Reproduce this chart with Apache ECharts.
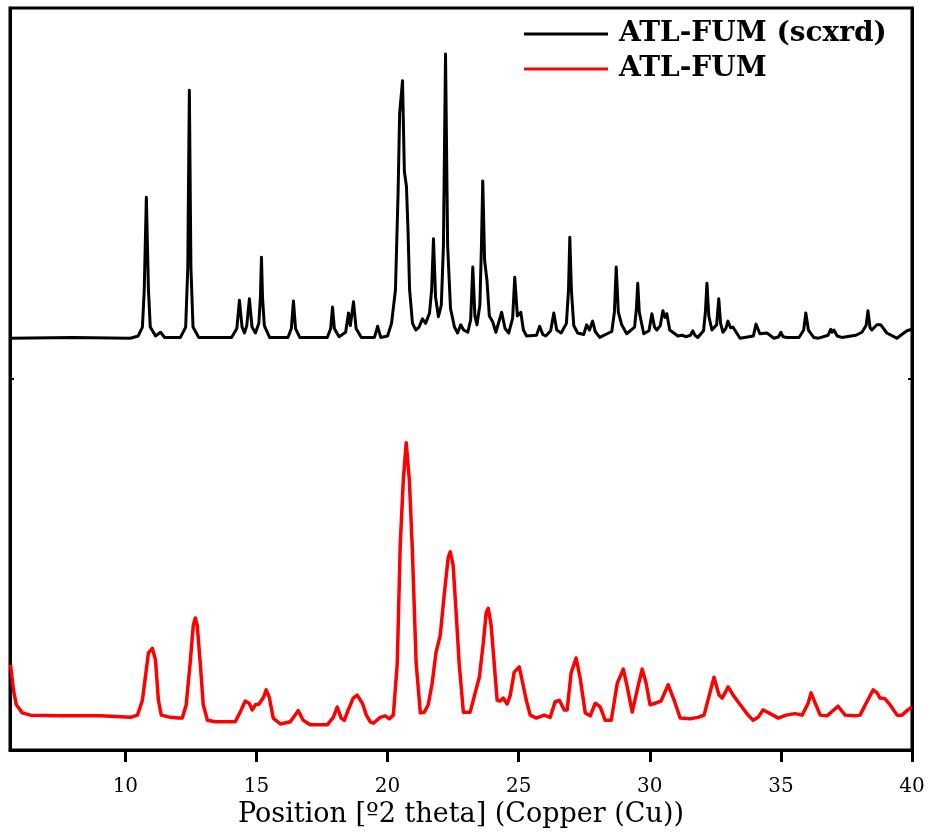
<!DOCTYPE html>
<html>
<head>
<meta charset="utf-8">
<script src="https://cdn.jsdelivr.net/npm/echarts@6/dist/echarts.min.js"></script>
<style>html,body{margin:0;padding:0;background:#fff}#chart{width:934px;height:834px}</style>
</head>
<body>
<div id="chart"></div>
<script>
// Series names
const seriesNames = ['ATL-FUM (scxrd)', 'ATL-FUM'];
// X axis tick labels (2θ)
const xTicks = [10, 15, 20, 25, 30, 35, 40];
// Simulated (single crystal) pattern, offset upward: [2theta, intensity a.u.]
const scxrdPattern = [
[5.6,55.5],[8.0,55.6],[10.19,55.5],[10.49,55.8],[10.65,57.0],[10.72,62.0],[10.80,74.5],[10.88,62.0],[10.95,57.0],[11.15,55.8],[11.34,56.3],[11.50,55.6],
[12.10,55.6],[12.30,57.0],[12.38,65.0],[12.44,88.9],[12.50,65.0],[12.58,57.0],[12.80,55.6],
[14.05,55.6],[14.25,56.8],[14.35,60.6],[14.45,57.0],[14.54,56.2],[14.63,57.2],[14.73,60.8],[14.83,57.0],[14.96,56.2],[15.09,57.5],[15.15,61.0],[15.19,66.4],[15.23,61.0],[15.30,57.2],[15.50,55.6],
[16.20,55.6],[16.33,56.8],[16.41,60.5],[16.49,56.8],[16.65,55.6],
[17.70,55.6],[17.83,56.8],[17.90,59.7],[17.97,56.8],[18.15,55.7],[18.40,56.3],[18.51,58.9],[18.58,57.2],[18.70,60.4],[18.80,56.8],[19.00,55.6],[19.50,55.6],[19.62,57.1],[19.74,55.6],
[20.00,55.8],[20.15,57.5],[20.30,62.0],[20.40,75.0],[20.46,85.8],[20.57,90.2],[20.64,78.0],[20.72,75.9],[20.78,70.0],[20.84,62.0],[20.95,57.5],[21.08,56.6],[21.20,57.0],[21.33,58.1],[21.45,57.5],[21.60,58.9],[21.68,62.0],[21.75,68.9],[21.83,61.0],[21.94,58.4],[22.05,60.0],[22.13,68.0],[22.21,93.8],[22.29,68.0],[22.40,59.5],[22.55,57.0],[22.67,56.2],[22.79,57.3],[22.90,56.6],[23.06,56.3],[23.17,58.0],[23.25,65.1],[23.33,58.5],[23.41,57.3],[23.52,60.0],[23.58,68.0],[23.63,76.7],[23.70,66.0],[23.79,63.3],[23.88,58.5],[24.01,57.7],[24.13,56.3],[24.35,59.0],[24.48,56.8],[24.62,56.2],[24.77,58.2],[24.85,63.7],[24.95,58.5],[25.08,59.0],[25.18,56.6],[25.30,55.8],[25.68,55.9],[25.80,57.1],[25.92,56.0],[26.03,55.8],[26.22,56.5],[26.34,58.9],[26.45,56.6],[26.62,56.2],[26.82,57.5],[26.90,62.0],[26.95,69.1],[27.01,62.0],[27.10,57.2],[27.25,56.2],[27.48,56.0],[27.59,57.3],[27.70,56.6],[27.82,57.8],[27.92,56.4],[28.09,55.6],[28.55,56.4],[28.65,59.0],[28.72,65.1],[28.80,59.0],[28.93,57.3],[29.12,56.1],[29.42,57.0],[29.49,59.5],[29.54,62.9],[29.60,59.0],[29.77,56.1],[29.97,56.5],[30.08,58.8],[30.18,57.0],[30.27,56.6],[30.40,57.2],[30.50,59.2],[30.58,58.3],[30.65,58.8],[30.76,56.6],[31.07,55.8],[31.22,55.9],[31.40,55.7],[31.55,55.9],[31.64,56.5],[31.72,55.9],[31.83,55.6],[32.05,56.5],[32.12,59.0],[32.18,62.9],[32.25,58.5],[32.37,56.6],[32.55,57.3],[32.63,60.8],[32.70,57.5],[32.79,56.3],[32.90,56.8],[32.98,57.8],[33.08,56.9],[33.17,57.0],[33.44,55.5],[33.95,55.8],[34.05,57.4],[34.20,56.1],[34.47,56.2],[34.73,55.5],[34.92,55.7],[35.00,56.3],[35.08,55.7],[35.23,55.6],[35.69,55.6],[35.87,56.6],[35.95,58.9],[36.05,56.6],[36.25,55.6],[36.44,55.5],[36.80,55.9],[36.90,56.7],[36.96,56.3],[37.02,56.6],[37.15,55.8],[37.32,55.6],[37.86,55.9],[38.09,56.3],[38.25,57.2],[38.32,59.2],[38.40,56.9],[38.47,56.6],[38.66,57.3],[38.81,57.3],[39.04,56.2],[39.42,55.5],[39.69,56.2],[39.81,56.5],[40.0,56.7]
];
// Experimental powder pattern: [2theta, intensity a.u.]
const pxrdPattern = [
[5.62,11.5],[5.73,8.1],[5.84,6.1],[6.07,5.0],[6.38,4.7],[7.52,4.6],[9.05,4.6],[10.19,4.4],[10.46,4.7],[10.65,6.7],[10.88,13.1],[11.03,13.7],[11.15,12.1],[11.26,6.7],[11.37,4.7],[11.72,4.4],[12.02,4.3],[12.17,4.3],[12.32,6.1],[12.48,12.1],[12.59,16.8],[12.67,17.8],[12.74,16.8],[12.86,11.5],[12.97,6.1],[13.13,4.0],[13.43,3.8],[14.19,3.8],[14.38,5.1],[14.57,6.6],[14.72,6.3],[14.84,5.4],[14.96,6.1],[15.10,6.2],[15.27,7.1],[15.37,8.1],[15.49,7.1],[15.64,4.3],[15.91,3.5],[16.29,3.8],[16.59,5.3],[16.78,4.0],[17.05,3.4],[17.70,3.4],[17.93,4.4],[18.08,5.8],[18.23,4.3],[18.35,4.0],[18.50,5.4],[18.69,7.0],[18.84,7.4],[19.04,6.3],[19.19,4.7],[19.34,3.8],[19.46,3.6],[19.72,4.4],[19.91,4.6],[20.07,4.2],[20.22,4.7],[20.37,11.7],[20.48,27.4],[20.60,36.4],[20.71,41.4],[20.83,36.4],[20.94,27.4],[21.09,11.7],[21.25,5.0],[21.40,5.1],[21.55,6.1],[21.70,9.0],[21.85,13.2],[22.01,15.5],[22.16,20.9],[22.31,25.9],[22.39,26.7],[22.50,24.9],[22.62,18.2],[22.73,11.7],[22.89,5.1],[23.15,5.1],[23.34,7.7],[23.50,9.8],[23.65,14.4],[23.76,18.5],[23.84,19.1],[23.95,16.8],[24.07,11.5],[24.18,6.7],[24.30,6.6],[24.41,7.0],[24.56,6.2],[24.68,7.4],[24.83,10.5],[25.02,11.2],[25.13,9.4],[25.29,6.7],[25.44,4.7],[25.67,4.3],[25.97,4.7],[26.20,4.4],[26.39,6.5],[26.55,6.7],[26.74,5.4],[26.85,5.4],[27.00,10.4],[27.19,12.4],[27.34,9.8],[27.54,5.0],[27.73,4.6],[27.92,6.3],[28.11,5.8],[28.30,4.0],[28.53,4.0],[28.76,9.0],[28.99,10.9],[29.14,8.5],[29.33,5.1],[29.52,8.1],[29.71,10.9],[29.86,9.0],[30.01,6.1],[30.20,6.3],[30.43,6.6],[30.70,8.8],[30.93,6.7],[31.16,4.3],[31.54,4.2],[31.84,4.4],[32.07,4.7],[32.30,7.8],[32.45,9.8],[32.64,7.4],[32.76,7.0],[32.99,8.5],[33.18,7.4],[33.45,6.1],[33.75,4.7],[33.94,4.0],[34.13,4.4],[34.32,5.4],[34.59,4.9],[34.90,4.3],[35.20,4.7],[35.54,4.9],[35.81,4.7],[36.04,6.3],[36.15,7.7],[36.31,6.3],[36.50,4.7],[36.76,4.6],[37.18,5.9],[37.45,4.7],[37.83,4.6],[38.02,4.7],[38.25,6.3],[38.52,8.1],[38.67,7.7],[38.78,7.0],[38.97,6.9],[39.16,6.1],[39.43,4.7],[39.62,4.7],[39.81,5.3],[40.00,5.8]
];

const chart = echarts.init(document.getElementById('chart'), null, {renderer: 'canvas'});
const serif = 'DejaVu Serif';
chart.setOption({
  backgroundColor: '#fff',
  animation: false,
  grid: {left: 10, right: 22, top: 8, bottom: 84, show: true, borderColor: '#000', borderWidth: 3, backgroundColor: 'transparent'},
  legend: {
    orient: 'vertical', left: 519, top: 14, itemWidth: 84, itemHeight: 3, itemGap: 5, icon: 'rect',
    textStyle: {fontFamily: serif, fontWeight: 'bold', fontSize: 28, color: '#000', padding: [0, 0, 0, 6], lineHeight: 30},
    data: seriesNames
  },
  xAxis: {
    type: 'value', min: 5.6, max: 40,
    axisLine: {show: true, onZero: false, lineStyle: {color: '#000', width: 3}},
    axisTick: {show: true, inside: false, length: 12, lineStyle: {color: '#000', width: 3}, customValues: xTicks},
    axisLabel: {show: true, margin: 27, fontFamily: serif, fontSize: 20, color: '#000', customValues: xTicks},
    splitLine: {show: false},
    name: 'Position [º2 theta] (Copper (Cu))', nameLocation: 'middle', nameGap: 46,
    nameTextStyle: {fontFamily: serif, fontSize: 27, color: '#000'}
  },
  yAxis: [{
    type: 'value', min: 0, max: 100, interval: 50, position: 'left',
    axisLine: {show: true, lineStyle: {color: '#000', width: 3}},
    axisTick: {show: true, inside: true, length: 4, lineStyle: {color: '#000', width: 2}},
    axisLabel: {show: false}, splitLine: {show: false}
  }, {
    type: 'value', min: 0, max: 100, interval: 50, position: 'right',
    axisLine: {show: true, lineStyle: {color: '#000', width: 3}},
    axisTick: {show: true, inside: true, length: 4, lineStyle: {color: '#000', width: 2}},
    axisLabel: {show: false}, splitLine: {show: false}
  }],
  series: [{
    name: seriesNames[0], type: 'line', data: scxrdPattern, yAxisIndex: 0,
    symbol: 'none', smooth: false, color: '#000',
    lineStyle: {color: '#000', width: 3, join: 'round'}
  }, {
    name: seriesNames[1], type: 'line', data: pxrdPattern, yAxisIndex: 0,
    symbol: 'none', smooth: false, color: '#ff0000',
    lineStyle: {color: '#ff0000', width: 3.5, join: 'round'}
  }]
});
</script>
</body>
</html>
